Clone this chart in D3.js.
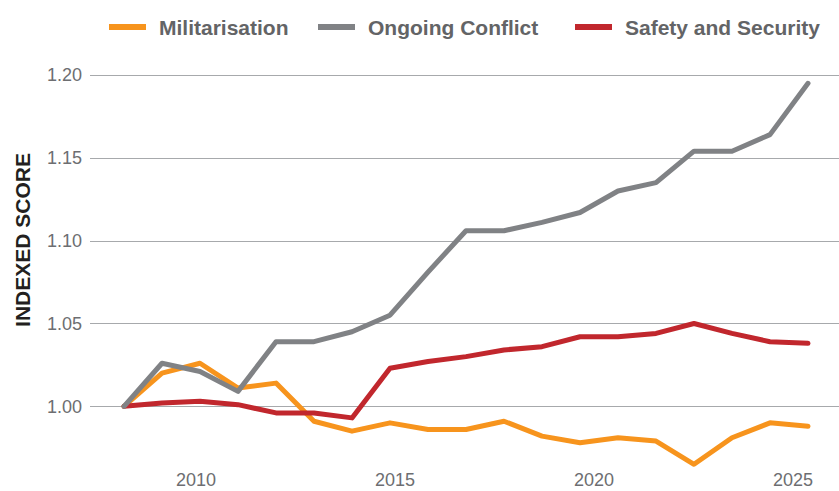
<!DOCTYPE html>
<html>
<head>
<meta charset="utf-8">
<script src="https://cdn.jsdelivr.net/npm/d3@7"></script>
<style>
  body { margin: 0; background: #fff; }
  svg { display: block; font-family: "Liberation Sans", Arial, Helvetica, sans-serif; }
</style>
</head>
<body>
<div id="chart"></div>
<script>
var width = 839;
var height = 491;

// 19 observations, 2008 = 1.00
var periods = d3.range(19);
var militarisation = [1.000, 1.020, 1.026, 1.011, 1.014, 0.991, 0.985, 0.990, 0.986, 0.986,
  0.991, 0.982, 0.978, 0.981, 0.979, 0.965, 0.981, 0.990, 0.988];
var ongoingConflict = [1.000, 1.026, 1.021, 1.009, 1.039, 1.039, 1.045, 1.055, 1.081, 1.106,
  1.106, 1.111, 1.117, 1.130, 1.135, 1.154, 1.154, 1.164, 1.195];
var safetySecurity = [1.000, 1.002, 1.003, 1.001, 0.996, 0.996, 0.993, 1.023, 1.027, 1.030,
  1.034, 1.036, 1.042, 1.042, 1.044, 1.050, 1.044, 1.039, 1.038];

var yTicks = [1.00, 1.05, 1.10, 1.15, 1.20];
var xTickYears = [2010, 2015, 2020, 2025];

var series = [
  {name: "Militarisation", values: militarisation, color: "#f7941d"},
  {name: "Safety and Security", values: safetySecurity, color: "#c1272d"},
  {name: "Ongoing Conflict", values: ongoingConflict, color: "#808285"}
];
var legendOrder = ["Militarisation", "Ongoing Conflict", "Safety and Security"];

var svg = d3.select("#chart").append("svg")
  .attr("width", width)
  .attr("height", height);

var x = d3.scalePoint().domain(periods).range([124, 808]);
var xYear = d3.scaleLinear().domain([2010, 2025]).range([196, 793]);
var y = d3.scaleLinear().domain([1.00, 1.20]).range([406.3, 75]);

// gridlines
svg.append("g").selectAll("line")
  .data(yTicks)
  .enter().append("line")
  .attr("x1", 90)
  .attr("x2", width)
  .attr("y1", function(d) { return Math.round(y(d)) + 0.5; })
  .attr("y2", function(d) { return Math.round(y(d)) + 0.5; })
  .attr("stroke", "#a7a9ac")
  .attr("stroke-width", 1.2);

// y tick labels
svg.append("g").selectAll("text")
  .data(yTicks)
  .enter().append("text")
  .attr("x", 82)
  .attr("y", function(d) { return y(d); })
  .attr("dy", "0.36em")
  .attr("text-anchor", "end")
  .attr("fill", "#6d6e71")
  .style("font-size", "18px")
  .text(function(d) { return d3.format(".2f")(d); });

// x tick labels
svg.append("g").selectAll("text")
  .data(xTickYears)
  .enter().append("text")
  .attr("x", function(d) { return xYear(d); })
  .attr("y", 486)
  .attr("text-anchor", "middle")
  .attr("fill", "#6d6e71")
  .style("font-size", "18px")
  .text(function(d) { return d; });

// y title
svg.append("text")
  .attr("transform", "translate(30,240) rotate(-90)")
  .attr("text-anchor", "middle")
  .attr("fill", "#231f20")
  .style("font-size", "21px")
  .style("font-weight", "bold")
  .text("INDEXED SCORE");

var line = d3.line()
  .x(function(d, i) { return x(i); })
  .y(function(d) { return y(d); });

svg.append("g").selectAll("path")
  .data(series)
  .enter().append("path")
  .attr("d", function(d) { return line(d.values); })
  .attr("fill", "none")
  .attr("stroke", function(d) { return d.color; })
  .attr("stroke-width", 5)
  .attr("stroke-linejoin", "round")
  .attr("stroke-linecap", "round");

// legend
var legendX = {"Militarisation": 109, "Ongoing Conflict": 318, "Safety and Security": 575};
var legend = svg.append("g").selectAll("g")
  .data(legendOrder)
  .enter().append("g")
  .attr("transform", function(d) { return "translate(" + legendX[d] + ",27)"; });

legend.append("line")
  .attr("x1", 0)
  .attr("x2", 37)
  .attr("stroke", function(d) { return series.find(function(s) { return s.name === d; }).color; })
  .attr("stroke-width", 6);

legend.append("text")
  .attr("x", 50)
  .attr("dy", "0.36em")
  .attr("fill", "#636466")
  .style("font-size", "21px")
  .style("font-weight", "bold")
  .text(function(d) { return d; });
</script>
</body>
</html>
